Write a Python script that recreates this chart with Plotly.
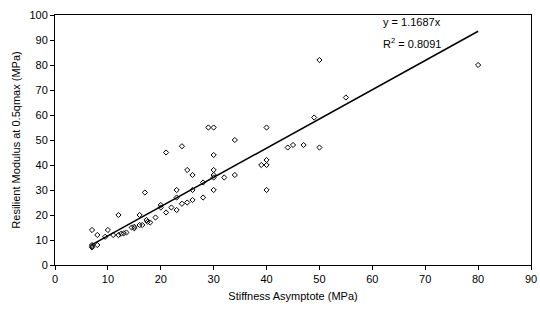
import plotly.graph_objects as go

stiffness = [7, 8, 7, 7, 7, 8, 10, 9.5, 11, 12, 12, 12.5, 13, 13.5, 14.5, 15, 15, 16, 16, 16.5,
             17, 17.3, 17.5, 18, 19, 20, 20, 21, 22, 23, 23, 23, 24, 25, 26, 26, 28, 28, 24, 21,
             25, 26, 29, 30, 30, 30, 30, 30, 30, 32, 34, 34, 40, 39, 40, 40, 40, 44, 45, 47,
             49, 50, 50, 55, 80]
resilient = [14, 12, 7, 7.5, 8, 8, 14, 11.3, 12, 20, 12, 12.5, 12.7, 13, 15, 15.3, 14.7, 16, 20, 16,
             29, 18, 17.3, 17, 19, 24, 23, 21, 23, 22, 27, 30, 24.5, 25, 26, 30, 27, 33, 47.5, 45,
             38, 36, 55, 55, 44, 38, 36, 35, 30, 35, 36, 50, 55, 40, 40, 42, 30, 47, 48, 48,
             59, 47, 82, 67, 80]
slope = 1.1687
r2 = 0.8091
trend_x = [7, 80]
trend_y = [slope * v for v in trend_x]

x_ticks = list(range(0, 91, 10))
y_ticks = list(range(0, 101, 10))

font = "Liberation Sans, Arial, sans-serif"

fig = go.Figure()
fig.add_trace(go.Scatter(x=stiffness, y=resilient, mode="markers",
                         marker=dict(symbol="diamond-open", size=4, color="black",
                                     line=dict(width=1, color="black")),
                         showlegend=False))
fig.add_trace(go.Scatter(x=trend_x, y=trend_y, mode="lines",
                         line=dict(color="black", width=1.5), showlegend=False))

fig.add_annotation(x=61.6, y=97.2, text="y = %.4fx" % slope, showarrow=False,
                   xanchor="left", yanchor="middle", font=dict(family=font, size=11, color="black"))
fig.add_annotation(x=61.6, y=88.8, text="R<sup>2</sup> = %.4f" % r2, showarrow=False,
                   xanchor="left", yanchor="middle", font=dict(family=font, size=11, color="black"))

axis_common = dict(showgrid=False, zeroline=False, showline=True, linecolor="black", linewidth=1,
                   mirror=True, ticks="outside", ticklen=4, tickcolor="black", automargin=False,
                   tickfont=dict(family=font, size=11, color="black"))

fig.update_xaxes(range=[0, 90], tickvals=x_ticks,
                 title=dict(text="Stiffness Asymptote (MPa)", font=dict(family=font, size=11, color="black"),
                            standoff=8),
                 **axis_common)
fig.update_yaxes(range=[0, 100], tickvals=y_ticks,
                 title=dict(text="Resilient Modulus at 0.5qmax (MPa)",
                            font=dict(family=font, size=11, color="black"), standoff=6),
                 **axis_common)

fig.update_layout(width=540, height=320, margin=dict(l=55, r=9, t=15, b=55),
                  plot_bgcolor="white", paper_bgcolor="white",
                  font=dict(family=font, size=11, color="black"))

fig.write_html("out.html")
